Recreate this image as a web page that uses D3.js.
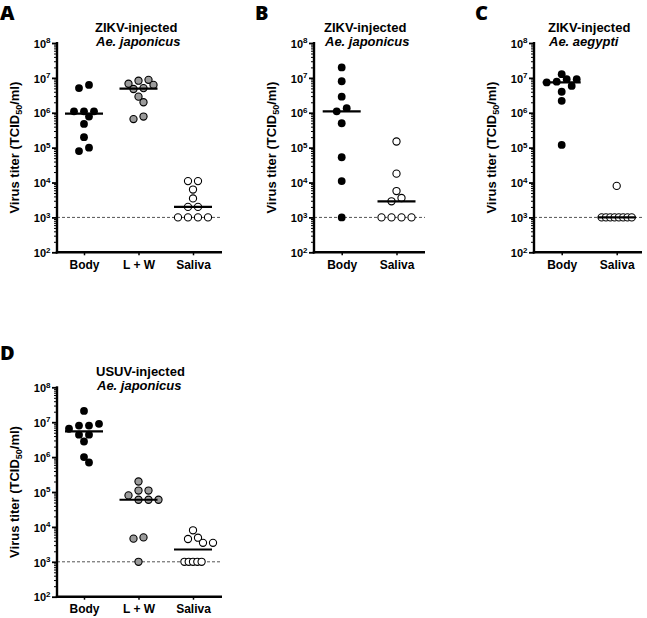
<!DOCTYPE html>
<html><head><meta charset="utf-8">
<script src="https://cdn.jsdelivr.net/npm/d3@7"></script>
<style>
body{margin:0;background:#fff}
svg{display:block}
text{font-family:"Liberation Sans",Arial,sans-serif;font-weight:bold;fill:#000}
</style>
</head><body>
<svg id="chart" width="647" height="618"></svg>
<script>
// ---------- data ----------
const tickExponents = [2, 3, 4, 5, 6, 7, 8];
const detectionLimit = 1e3;
const panelLetters = ["A", "B", "C", "D"];
const virusTitles = ["ZIKV-injected", "ZIKV-injected", "ZIKV-injected", "USUV-injected"];
const speciesTitles = ["Ae. japonicus", "Ae. japonicus", "Ae. aegypti", "Ae. japonicus"];
const yAxisTitle = "Virus titer (TCID";
const yAxisSub = "50";
const yAxisTail = "/ml)";

const categoriesA = ["Body", "L + W", "Saliva"];
const categoriesB = ["Body", "Saliva"];
const categoriesC = ["Body", "Saliva"];
const categoriesD = ["Body", "L + W", "Saliva"];

const aBody   = [6.3e6, 5.1e6, 1.1e6, 1.1e6, 1.1e6, 7.8e5, 4.8e5, 2e5, 1e5, 8e4];
const aLW     = [8.8e6, 8.3e6, 6.8e6, 6.3e6, 5.1e6, 4.8e6, 2.9e6, 2e6, 7.8e5, 6.6e5];
const aSaliva = [1.1e4, 1.1e4, 6.3e3, 3.5e3, 2e3, 2e3, 1e3, 1e3, 1e3, 1e3];

const bBody   = [2e7, 8e6, 2.9e6, 1.35e6, 1.1e6, 5e5, 5.3e4, 1.1e4, 1e3];
const bSaliva = [1.5e5, 1.8e4, 5.7e3, 3.6e3, 2.9e3, 1e3, 1e3, 1e3, 1e3];

const cBody   = [1.28e7, 9.2e6, 9.2e6, 7.8e6, 7.4e6, 5.9e6, 4e6, 2.2e6, 1.2e5];
const cSaliva = [8e3, 1e3, 1e3, 1e3, 1e3, 1e3, 1e3, 1e3, 1e3];

const dBody   = [2.1e7, 9e6, 8e6, 8e6, 6.5e6, 4.4e6, 4.4e6, 2.8e6, 1e6, 7e5];
const dLW     = [2e5, 1.1e5, 1.1e5, 8e4, 6e4, 6e4, 6e4, 5e3, 4.6e3, 1e3];
const dSaliva = [8e3, 4.9e3, 4.5e3, 3.5e3, 3.5e3, 1e3, 1e3, 1e3, 1e3, 1e3];

// ---------- layout ----------
const panels = [
  {cats: categoriesA, series: [aBody, aLW, aSaliva], axisX: 57, top: 43, bottom: 252.3, catL: 84, catR: 193, endX: 222,
   letterX: 0, letterY: 20, titleX: 95, titleY: 32},
  {cats: categoriesB, series: [bBody, bSaliva], axisX: 314, top: 43, bottom: 252.3, catL: 341.7, catR: 396.5, endX: 425,
   letterX: 255, letterY: 20, titleX: 324, titleY: 32},
  {cats: categoriesC, series: [cBody, cSaliva], axisX: 534, top: 43, bottom: 252.3, catL: 561.7, catR: 616.7, endX: 642,
   letterX: 475, letterY: 20, titleX: 548, titleY: 32},
  {cats: categoriesD, series: [dBody, dLW, dSaliva], axisX: 57, top: 387.3, bottom: 596.7, catL: 84, catR: 193, endX: 222,
   letterX: 0, letterY: 360, titleX: 96, titleY: 376.3}
];
const fills = {"Body": "#000", "L + W": "#9b9b9b", "Saliva": "#fff"};

const svg = d3.select("#chart");

function layoutPoints(values, y) {
  const pts = values.map(v => ({v, y: y(v)})).sort((a, b) => a.y - b.y || b.v - a.v);
  const rows = [];
  pts.forEach(p => {
    const r = rows[rows.length - 1];
    if (r && p.y - r[0].y < 5) r.push(p); else rows.push([p]);
  });
  const placed = [];
  rows.forEach(row => {
    row.sort((a, b) => a.v - b.v);
    const n = row.length;
    const s = n <= 4 ? 10 : 4.3;
    const base = row.map((p, i) => (i - (n - 1) / 2) * s);
    const shifts = [0, 5, -5, 10, -10, 15, -15];
    let chosen = 0;
    if (n <= 4) {
      for (const sh of shifts) {
        const ok = row.every((p, i) => placed.every(q => Math.hypot(base[i] + sh - q.dx, p.y - q.y) >= 7));
        if (ok) { chosen = sh; break; }
      }
    }
    row.forEach((p, i) => { p.dx = base[i] + chosen; placed.push(p); });
  });
  return placed;
}

panels.forEach((P, pi) => {
  const g = svg.append("g");
  const y = d3.scaleLog().domain([1e2, 1e8]).range([P.bottom, P.top]);
  const x = d3.scalePoint().domain(P.cats).range([P.catL, P.catR]);

  // detection limit dashed line
  g.append("line")
    .attr("x1", P.axisX).attr("x2", P.endX)
    .attr("y1", y(detectionLimit)).attr("y2", y(detectionLimit))
    .attr("stroke", "#555").attr("stroke-width", 1).attr("stroke-dasharray", "3,2");

  // minor ticks
  const minorVals = [];
  tickExponents.slice(0, -1).forEach(e => { for (let m = 2; m <= 9; m++) minorVals.push(m * Math.pow(10, e)); });
  const minorAxis = g.append("g").attr("transform", `translate(${P.axisX},0)`)
    .call(d3.axisLeft(y).tickValues(minorVals).tickSize(3).tickSizeOuter(0).tickFormat(""));
  minorAxis.select(".domain").remove();
  minorAxis.selectAll("line").attr("stroke", "#000").attr("stroke-width", 1);

  // major ticks
  const majorVals = tickExponents.map(e => Math.pow(10, e));
  const majorAxis = g.append("g").attr("transform", `translate(${P.axisX},0)`)
    .call(d3.axisLeft(y).tickValues(majorVals).tickSize(5).tickSizeOuter(0).tickFormat(""));
  majorAxis.select(".domain").remove();
  majorAxis.selectAll("line").attr("stroke", "#000").attr("stroke-width", 1.8);
  majorAxis.selectAll(".tick").each(function(d, i) {
    const t = d3.select(this).append("text")
      .attr("x", -6.5).attr("y", 4.2).attr("text-anchor", "end")
      .style("font-size", "11px");
    t.append("tspan").text("10");
    t.append("tspan").attr("dy", -4.5).style("font-size", "8px").text(tickExponents[i]);
  });

  // y axis line
  g.append("line").attr("x1", P.axisX).attr("x2", P.axisX)
    .attr("y1", P.top - 1).attr("y2", P.bottom + 1.2)
    .attr("stroke", "#000").attr("stroke-width", 2.4);

  // x axis
  const xAxis = g.append("g").attr("transform", `translate(0,${P.bottom})`)
    .call(d3.axisBottom(x).tickSize(3).tickSizeOuter(0).tickPadding(5));
  xAxis.select(".domain").remove();
  xAxis.selectAll("line").attr("stroke", "#000").attr("stroke-width", 1.5);
  xAxis.selectAll("text").attr("dy", null).attr("y", 16.5)
    .style("font-size", "12px").style("font-family", "'Liberation Sans',Arial,sans-serif");
  g.append("line").attr("x1", P.axisX - 1.2).attr("x2", P.endX)
    .attr("y1", P.bottom).attr("y2", P.bottom)
    .attr("stroke", "#000").attr("stroke-width", 2.4);

  // y title
  const yt = g.append("text")
    .attr("transform", `translate(${P.axisX - 38.5},${(P.top + P.bottom) / 2}) rotate(-90)`)
    .attr("text-anchor", "middle").style("font-size", "13px");
  yt.append("tspan").text(yAxisTitle);
  yt.append("tspan").attr("dy", 3).style("font-size", "9px").text(yAxisSub);
  yt.append("tspan").attr("dy", -3).text(yAxisTail);

  // panel letter
  g.append("text").attr("x", P.letterX).attr("y", P.letterY)
    .style("font-family", "'Open Sans',sans-serif").style("font-size", "20px").style("font-weight", "800")
    .text(panelLetters[pi]);

  // titles
  g.append("text").attr("x", P.titleX).attr("y", P.titleY).style("font-size", "13px").text(virusTitles[pi]);
  g.append("text").attr("x", P.titleX + 1).attr("y", P.titleY + 13.5).style("font-size", "13px")
    .style("font-style", "italic").text(speciesTitles[pi]);

  // points and medians
  P.cats.forEach((cat, ci) => {
    const vals = P.series[ci];
    const cx = x(cat);
    const pts = layoutPoints(vals, y);
    const open = cat !== "Body";
    g.append("g").selectAll("circle").data(pts).join("circle")
      .attr("cx", d => cx + d.dx).attr("cy", d => d.y)
      .attr("r", cat === "Body" ? 3.9 : 3.6)
      .attr("fill", fills[cat])
      .attr("stroke", open ? "#000" : "none")
      .attr("stroke-width", 1.1);
    const med = d3.median(vals);
    g.append("line").attr("x1", cx - 19).attr("x2", cx + 19)
      .attr("y1", y(med)).attr("y2", y(med))
      .attr("stroke", "#000").attr("stroke-width", 2.2);
  });
});
</script>
</body></html>
